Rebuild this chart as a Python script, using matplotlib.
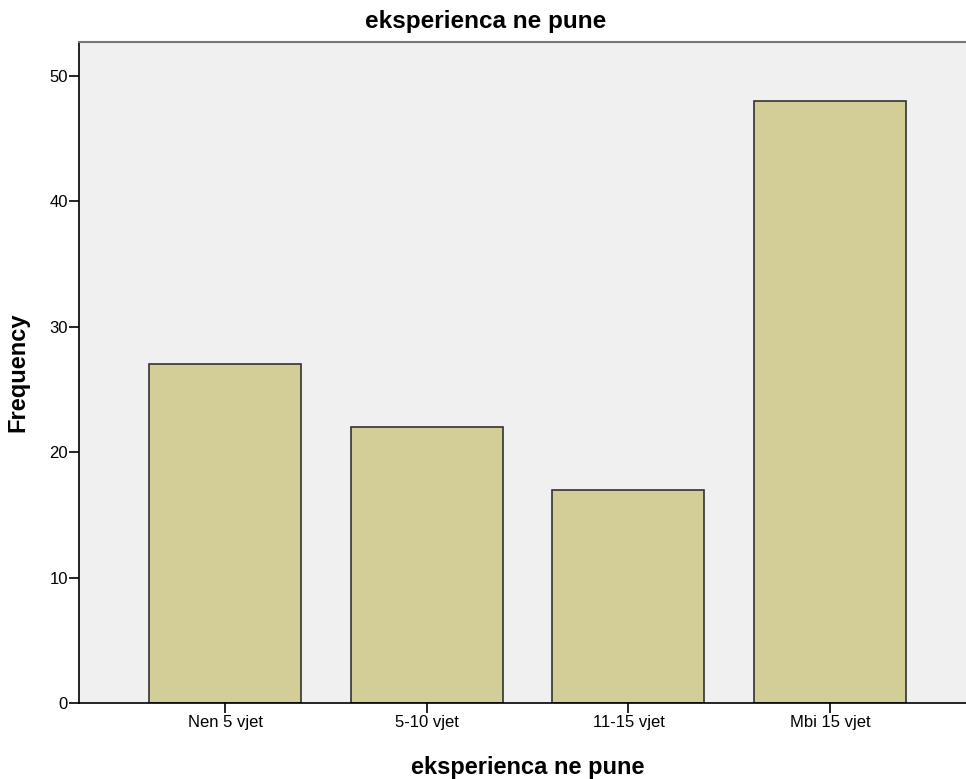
import numpy as np
import matplotlib.pyplot as plt

plt.rcParams['font.family'] = ['Liberation Sans', 'DejaVu Sans']

categories = ['Nen 5 vjet', '5-10 vjet', '11-15 vjet', 'Mbi 15 vjet']
frequency = [27, 22, 17, 48]
yticks = [0, 10, 20, 30, 40, 50]

fig = plt.figure(figsize=(9.66, 7.79), dpi=100)
# frame runs a little past the right edge of the picture
ax = fig.add_axes([0.0818, 0.0976, 0.9286, 0.8484])
ax.set_facecolor('#F0F0F0')

x = np.arange(len(categories))
ax.bar(x, frequency, width=0.754, color='#D3CE97', edgecolor='#333333', linewidth=1.2, zorder=2)

ax.set_xlim(-0.725, 3.724)
ax.set_ylim(0, 52.7)
ax.set_xticks(x)
ax.set_xticklabels(categories, fontsize=12)
ax.set_yticks(yticks)
ax.set_yticklabels([str(t) for t in yticks], fontsize=12)
ax.tick_params(direction='out', length=7, width=1.2, color='black')
ax.tick_params(axis='x', pad=2)
ax.tick_params(axis='y', pad=1)

ax.spines['right'].set_visible(False)
ax.spines['top'].set_color('#777777')
ax.spines['top'].set_linewidth(1.5)
ax.spines['left'].set_color('black')
ax.spines['bottom'].set_color('black')
ax.spines['left'].set_linewidth(1.2)
ax.spines['bottom'].set_linewidth(1.2)

fig.text(0.503, 0.973, 'eksperienca ne pune', fontsize=17.5, fontweight='bold',
         ha='center', va='center')
ax.set_xlabel('eksperienca ne pune', fontsize=17, fontweight='bold', va='center')
ax.xaxis.set_label_coords(0.5, -0.098)
ax.set_ylabel('Frequency', fontsize=17, fontweight='bold', va='center')
ax.yaxis.set_label_coords(-0.068, 0.5)

fig.savefig('out.png', dpi=100)
